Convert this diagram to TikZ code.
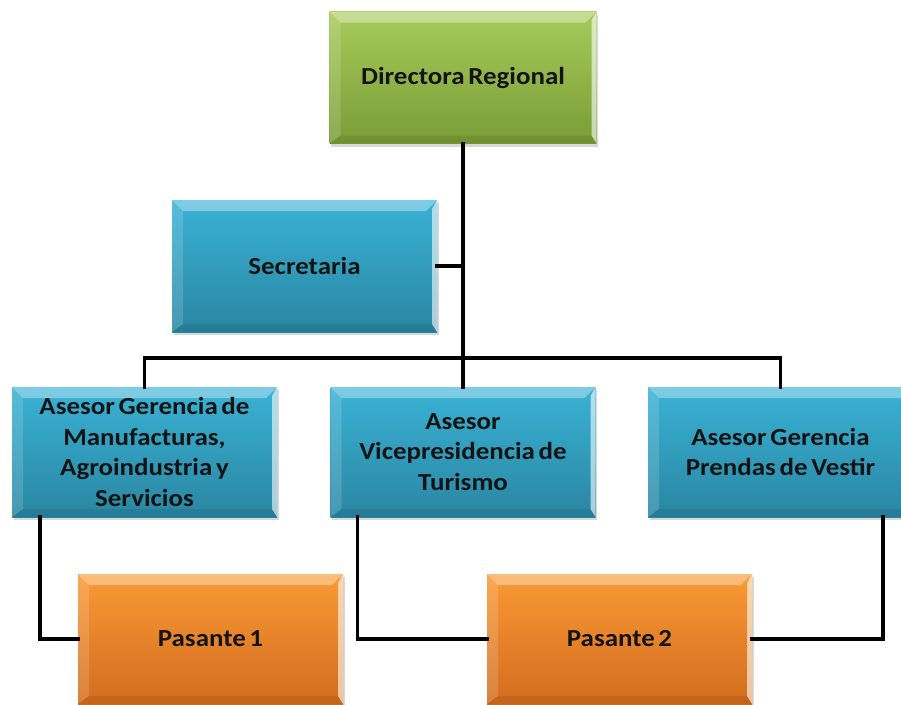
\documentclass[tikz,border=0pt]{standalone}
\usepackage{fontspec}
\setmainfont{Carlito}[FakeStretch=1.1, WordSpace=0.6]
\usetikzlibrary{shadows,calc}
\definecolor{gtop}{HTML}{A8CB5C}
\definecolor{gbot}{HTML}{7A9C36}
\definecolor{btop}{HTML}{39B2D5}
\definecolor{bbot}{HTML}{2A86A2}
\definecolor{otop}{HTML}{FA9A35}
\definecolor{obot}{HTML}{D26C1E}
\definecolor{txt}{HTML}{141414}
\tikzset{
  bevbox/.style 2 args={rectangle, minimum width=265pt, minimum height=131pt, inner sep=0pt,
    align=center, text=txt, font=\fontsize{24.5}{30.5}\selectfont\bfseries,
    top color=#1, bottom color=#2,
    drop shadow={shadow xshift=1.5pt, shadow yshift=-3pt, opacity=0.3},
    path picture={
      \fill[white,opacity=0.35] (path picture bounding box.north west) -- (path picture bounding box.north east)
        -- ([shift={(-11pt,-11pt)}]path picture bounding box.north east) -- ([shift={(11pt,-11pt)}]path picture bounding box.north west) -- cycle;
      \fill[white,opacity=0.15] (path picture bounding box.north west) -- ([shift={(11pt,-11pt)}]path picture bounding box.north west)
        -- ([shift={(11pt,8pt)}]path picture bounding box.south west) -- (path picture bounding box.south west) -- cycle;
      \fill[white,opacity=0.6] (path picture bounding box.north east) -- ([shift={(-5pt,-9pt)}]path picture bounding box.north east)
        -- ([shift={(-5pt,8pt)}]path picture bounding box.south east) -- (path picture bounding box.south east) -- cycle;
      \fill[black,opacity=0.08] (path picture bounding box.south west) -- ([shift={(11pt,8pt)}]path picture bounding box.south west)
        -- ([shift={(-5pt,8pt)}]path picture bounding box.south east) -- (path picture bounding box.south east) -- cycle;
    }},
  greenbox/.style={bevbox={gtop}{gbot}},
  bluebox/.style={bevbox={btop}{bbot}},
  orangebox/.style={bevbox={otop}{obot}},
  conn/.style={line width=3.6pt, black, line cap=rect, line join=miter}
}
\begin{document}
\begin{tikzpicture}[x=1pt,y=1pt]
\fill[white] (0,0) rectangle (901,-704);
\useasboundingbox (0,0) rectangle (901,-704);

\coordinate (bar) at (463,-358);

\node[greenbox, minimum width=267pt, minimum height=132pt] (dir) at (463,-77.5) {Directora Regional};
\node[bluebox, minimum height=132pt] (sec) at (304.5,-266) {Secretaria};
\node[bluebox, minimum height=130pt] (a1) at (144.5,-452) {Asesor Gerencia de\\Manufacturas,\\Agroindustria y\\Servicios};
\node[bluebox, minimum height=130pt] (a2) at (463,-452) {Asesor\\Vicepresidencia de\\Turismo};
\node[bluebox, minimum height=130pt] (a3) at (780.5,-452) {Asesor Gerencia\\Prendas de Vestir};
\node[orangebox, minimum height=130pt] (p1) at (210.5,-639) {Pasante 1};
\node[orangebox, minimum height=130pt] (p2) at (619.5,-639) {Pasante 2};

\draw[conn] (dir.south) -- (a2.north);
\draw[conn] (sec.east) -- (sec.east -| dir.south);
\draw[conn] (a1.north) |- (bar) -| (a3.north);
\draw[conn] ([xshift=28pt]a1.south west) |- (p1.west);
\draw[conn] ([xshift=27pt]a2.south west) |- (p2.west);
\draw[conn] ([xshift=-30pt]a3.south east) |- (p2.east);
\end{tikzpicture}
\end{document}
